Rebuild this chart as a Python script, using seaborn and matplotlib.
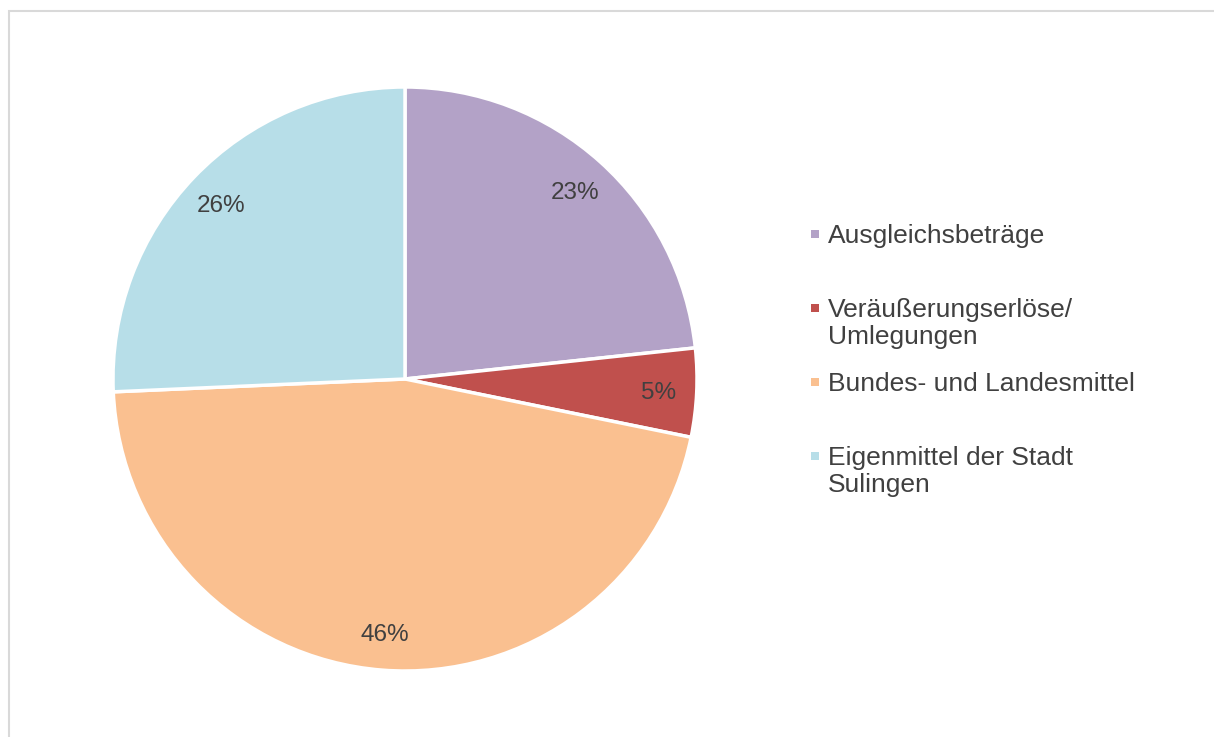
import matplotlib.pyplot as plt
import seaborn as sns
from matplotlib.patches import Rectangle

# Funding shares (percent)
categories = [
    "Ausgleichsbeträge",
    "Veräußerungserlöse/\nUmlegungen",
    "Bundes- und Landesmittel",
    "Eigenmittel der Stadt\nSulingen",
]
shares = [23.3, 4.9, 46.1, 25.7]
colors = ["#B3A2C7", "#C0504D", "#FAC090", "#B7DEE8"]

TEXT = "#404040"

sns.set_theme(style="white")
plt.rcParams["font.family"] = ["Liberation Sans", "DejaVu Sans"]

W, H = 1214, 737
fig = plt.figure(figsize=(W / 100, H / 100), dpi=100)

# pie centre (405, 379) px, radius 292 px; pie draws with limits +-1.25
cx, cy, r = 405, 379, 292
side = r * 1.25
ax = fig.add_axes([(cx - side) / W, (H - cy - side) / H, 2 * side / W, 2 * side / H])

wedges, _, autotexts = ax.pie(
    shares,
    colors=colors,
    startangle=90,
    counterclock=False,
    autopct="%.0f%%",
    pctdistance=0.87,
    wedgeprops=dict(edgecolor="white", linewidth=2.5),
    textprops=dict(color=TEXT, fontsize=17.5),
)
for t in autotexts:
    t.set_va("center_baseline")
ax.set_aspect("equal")

# legend: entries in equal slots, marker aligned with first line
y_first = 234
step = 74
for i, (label, col) in enumerate(zip(categories, colors)):
    y = y_first + i * step
    fig.patches.append(
        Rectangle((811 / W, 1 - (y + 4) / H), 8 / W, 8 / H,
                  transform=fig.transFigure, facecolor=col, edgecolor="none")
    )
    fig.text(828 / W, 1 - (y - 10) / H, label, ha="left", va="top",
             fontsize=19, color=TEXT, linespacing=1.16)

# chart border (cropped at right and bottom)
fig.patches.append(
    Rectangle((8.5 / W, -0.1), 2.0, 1.1 - 10.5 / H, transform=fig.transFigure,
              facecolor="none", edgecolor="#D9D9D9", linewidth=1.5)
)

fig.savefig("out.png", dpi=100, facecolor="white")
